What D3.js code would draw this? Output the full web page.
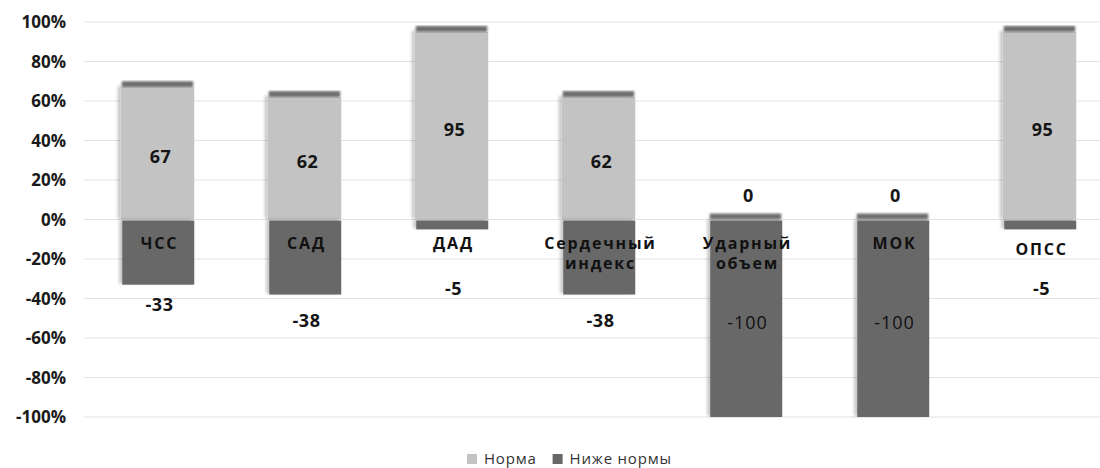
<!DOCTYPE html>
<html>
<head>
<meta charset="utf-8">
<script src="https://cdn.jsdelivr.net/npm/d3@7"></script>
<style>
  html, body { margin: 0; padding: 0; background: #fff; }
  svg { display: block; }
  text { font-family: "Open Sans", "Noto Sans", sans-serif; }
</style>
</head>
<body>
<svg id="chart" width="1100" height="468"></svg>
<script>
// Indicators (two-line names split by "\n")
const categories = ["ЧСС", "САД", "ДАД", "Сердечный\nиндекс", "Ударный\nобъем", "МОК", "ОПСС"];
// Share of patients, %
const normValues  = [67, 62, 95, 62, 0, 0, 95];
const belowValues = [-33, -38, -5, -38, -100, -100, -5];
const yTicks = [100, 80, 60, 40, 20, 0, -20, -40, -60, -80, -100];
const seriesNames = ["Норма", "Ниже нормы"];

// Layout: where the "below" labels sit, in axis units
const belowLabelAt = [-43, -51, -34.5, -51, -52, -52, -34.5];
const categoryLabelDy = [0, 0, 0, 0, 0, 0, 6];

const colNorm = "#c3c3c3";
const colBelow = "#676767";

const svg = d3.select("#chart");
const defs = svg.append("defs");
const sh = defs.append("filter").attr("id", "shadow")
  .attr("x", "-20%").attr("y", "-10%").attr("width", "140%").attr("height", "120%");
sh.append("feDropShadow").attr("dx", -3).attr("dy", -1).attr("stdDeviation", 1.6)
  .attr("flood-color", "#000").attr("flood-opacity", 0.22);
const soft = defs.append("filter").attr("id", "soft");
soft.append("feGaussianBlur").attr("stdDeviation", 0.8);

const x = d3.scaleBand().domain(categories).range([84, 1113]).paddingInner(0.5).paddingOuter(0.25);
const y = d3.scaleLinear().domain([-100, 100]).range([417, 22]);

// Grid
svg.append("g").selectAll("line").data(yTicks).join("line")
  .attr("x1", 84).attr("x2", 1100)
  .attr("y1", d => y(d)).attr("y2", d => y(d))
  .attr("stroke", "#e3e3e3").attr("stroke-width", 1.2);

// Y axis labels
const yAxis = d3.axisLeft(y).tickValues(yTicks).tickSize(0).tickPadding(0)
  .tickFormat(d => d + "%");
const yg = svg.append("g").attr("transform", "translate(66,0)").call(yAxis);
yg.select(".domain").remove();
yg.selectAll("text").attr("font-size", 17).attr("font-weight", 700)
  .attr("fill", "#1a1a1a").attr("font-family", "'Open Sans', sans-serif").attr("dy", "0.35em");

const rows = categories.map((c, i) => ({ c, i, norm: normValues[i], below: belowValues[i] }));
const bw = x.bandwidth();

// Norm bars
const bars = svg.append("g");
bars.selectAll("rect.norm").data(rows.filter(d => d.norm > 0)).join("rect")
  .attr("class", "norm")
  .attr("x", d => x(d.c)).attr("width", bw)
  .attr("y", d => y(d.norm)).attr("height", d => y(0) - y(d.norm))
  .attr("fill", colNorm).attr("filter", "url(#shadow)");

// Below-norm bars
bars.selectAll("rect.below").data(rows).join("rect")
  .attr("class", "below")
  .attr("x", d => x(d.c) + 1.5).attr("width", bw - 1.5)
  .attr("y", y(0) + 1).attr("height", d => y(d.below) - y(0) - 1)
  .attr("fill", colBelow).attr("filter", "url(#shadow)");

// Dark top edge of each stack
bars.selectAll("rect.cap").data(rows).join("rect")
  .attr("class", "cap")
  .attr("x", d => x(d.c) + 1).attr("width", bw - 2)
  .attr("y", d => y(d.norm) - 6).attr("height", 6)
  .attr("fill", "#6e6e6e").attr("filter", "url(#soft)");

// Norm value labels
svg.append("g").selectAll("text").data(rows).join("text")
  .attr("x", d => x(d.c) + bw / 2 + 3)
  .attr("y", d => d.norm > 0 ? (y(d.norm) + y(0)) / 2 + 3 : y(0) - 25)
  .attr("text-anchor", "middle").attr("dominant-baseline", "central")
  .attr("font-size", 18).attr("font-weight", 700).attr("fill", "#151515")
  .attr("letter-spacing", 0.5)
  .text(d => d.norm);

// Below-norm value labels
svg.append("g").selectAll("text").data(rows).join("text")
  .attr("x", d => x(d.c) + bw / 2 + 2)
  .attr("y", d => y(belowLabelAt[d.i]))
  .attr("text-anchor", "middle").attr("dominant-baseline", "central")
  .attr("font-size", 18)
  .attr("font-weight", d => d.below <= -100 ? 400 : 700)
  .attr("fill", d => d.below <= -100 ? "#111" : "#151515")
  .attr("letter-spacing", d => d.below <= -100 ? 1 : 0.5)
  .text(d => d.below);

// Category names just under the zero line
const cat = svg.append("g").selectAll("text").data(rows).join("text")
  .attr("x", d => x(d.c) + bw / 2 + 2)
  .attr("y", d => y(0) + 29 + categoryLabelDy[d.i])
  .attr("text-anchor", "middle")
  .attr("font-size", 16).attr("font-weight", 700).attr("fill", "#111")
  .attr("letter-spacing", 1.8);
cat.selectAll("tspan").data(d => d.c.split("\n").map((t, k) => ({ t, k }))).join("tspan")
  .attr("x", function () { return d3.select(this.parentNode).attr("x"); })
  .attr("dy", d => d.k === 0 ? 0 : 20)
  .text(d => d.t);

// Legend
const legend = svg.append("g").attr("transform", "translate(467,464)");
const colors = [colNorm, colBelow];
let lx = 0;
seriesNames.forEach((name, i) => {
  legend.append("rect").attr("x", lx).attr("y", -10).attr("width", 10).attr("height", 10)
    .attr("fill", colors[i]);
  const t = legend.append("text").attr("x", lx + 17).attr("y", 0)
    .attr("font-family", "'Liberation Sans', Arial, sans-serif")
    .attr("font-size", 15).attr("letter-spacing", 0.8).attr("fill", "#333").text(name);
  lx += 17 + t.node().getComputedTextLength() + 16;
});
</script>
</body>
</html>
